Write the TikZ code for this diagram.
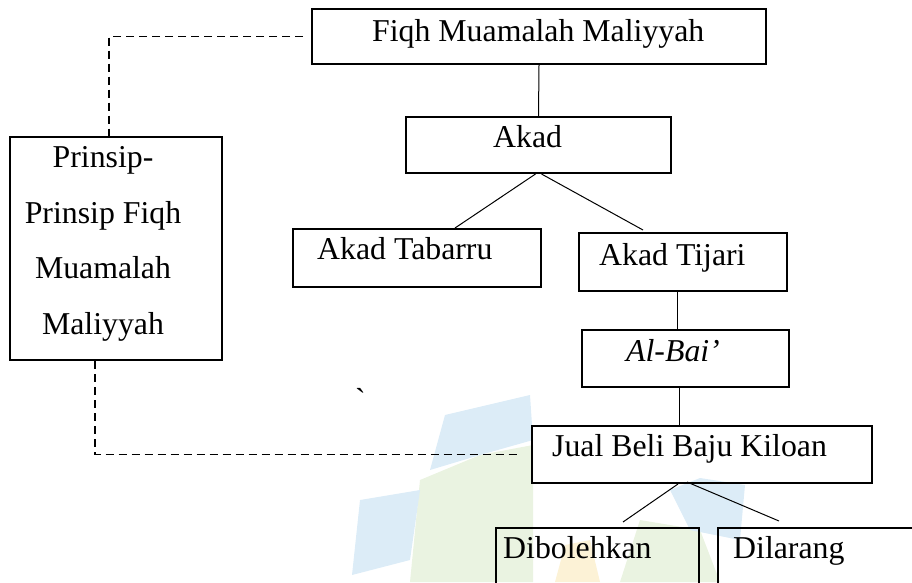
\documentclass[tikz,border=0pt]{standalone}
\usepackage{fontspec}
\setmainfont{Liberation Serif}
\usetikzlibrary{calc}
\definecolor{wmblue}{HTML}{DCECF7}
\definecolor{wmgreen}{HTML}{EAF3E1}
\definecolor{wmyellow}{HTML}{FCF2D6}
\tikzset{
  box/.style={draw, line width=2pt, inner sep=0pt},
  lbl/.style={inner sep=0pt, anchor=base west, font=\fontsize{31.8}{55.5}\selectfont},
  link/.style={line width=1pt},
  dlink/.style={line width=1.6pt, dash pattern=on 8pt off 5pt},
  wm/.style={draw=none}
}
\begin{document}
\begin{tikzpicture}[x=1pt,y=-1pt]
\useasboundingbox (0,0) rectangle (912,582);
\clip (0,0) rectangle (912,582);
% faint watermark
\fill[wmgreen] (410,582) -- (420,480) -- (480,455) -- (533,445) -- (533,582) -- cycle;
\fill[wmgreen] (620,582) -- (640,520) -- (700,530) -- (720,582) -- cycle;
\fill[wmblue] (430,470) -- (445,415) -- (530,395) -- (533,440) -- (480,455) -- cycle;
\fill[wmblue] (352,575) -- (360,500) -- (420,490) -- (410,560) -- cycle;
\fill[wmblue] (670,490) -- (700,478) -- (745,485) -- (740,540) -- (690,530) -- cycle;
\fill[wmyellow] (555,582) -- (565,545) -- (590,540) -- (600,582) -- cycle;
% boxes
\node[box, minimum width=454pt, minimum height=55pt] (fiqh) at (539,36.5) {};
\node[box, minimum width=265pt, minimum height=56pt] (akad) at (538.5,145) {};
\node[box, minimum width=248pt, minimum height=58pt] (tabarru) at (417,258) {};
\node[box, minimum width=208pt, minimum height=58pt] (tijari) at (683,262) {};
\node[box, minimum width=207pt, minimum height=57pt] (albai) at (685.5,358.5) {};
\node[box, minimum width=340pt, minimum height=57pt] (jual) at (702,454.5) {};
\node[box, minimum width=212pt, minimum height=223pt] (prinsip) at (116,248.5) {};
\node[box, minimum width=203pt, minimum height=100pt] (boleh) at (597.5,578) {};
\node[box, minimum width=232pt, minimum height=100pt] (larang) at (834,578) {};
% texts
\node[lbl] (tfiqh) at (372,41) {Fiqh Muamalah Maliyyah};
\node[lbl] (takad) at (493,147) {Akad};
\node[lbl] (ttabarru) at (317,259) {Akad Tabarru};
\node[lbl] (ttijari) at (599,265) {Akad Tijari};
\node[lbl] (talbai) at (626,361) {\itshape Al-Bai’};
\node[lbl] (tjual) at (552,456) {Jual Beli Baju Kiloan};
\node[lbl] (tboleh) at (503,558) {Dibolehkan};
\node[lbl] (tlarang) at (733,558) {Dilarang};
\node[lbl, anchor=base, align=center] (tprinsip) at (103,334) {Prinsip-\\Prinsip Fiqh\\Muamalah\\Maliyyah};
\node[lbl] (tick) at (355,410) {\textasciigrave};
% connectors
\draw[link] (fiqh.south) -- (akad.north);
\draw[link] ($(akad.south)+(-3,0)$) -- ($(tabarru.north)+(38,0)$);
\draw[link] ($(akad.south)+(3,0)$) -- ($(tijari.north)+(-40,-2)$);
\draw[link] ($(tijari.south)+(-6,0)$) -- ($(albai.north)+(-8.5,0)$);
\draw[link] ($(albai.south)+(-6.5,0)$) -- ($(jual.north)+(-23,0)$);
\draw[link] ($(jual.south)+(-24,0)$) -- ($(boleh.north)+(25.5,-5)$);
\draw[link] ($(jual.south)+(-15,-2)$) -- ($(larang.north)+(-55,-6)$);
\draw[dlink] ($(fiqh.west)+(-8,0)$) -| ($(prinsip.north)+(-7,0)$);
\draw[dlink] ($(prinsip.south)+(-21,0)$) |- ($(jual.west)+(-12,0)$);
\end{tikzpicture}
\end{document}
